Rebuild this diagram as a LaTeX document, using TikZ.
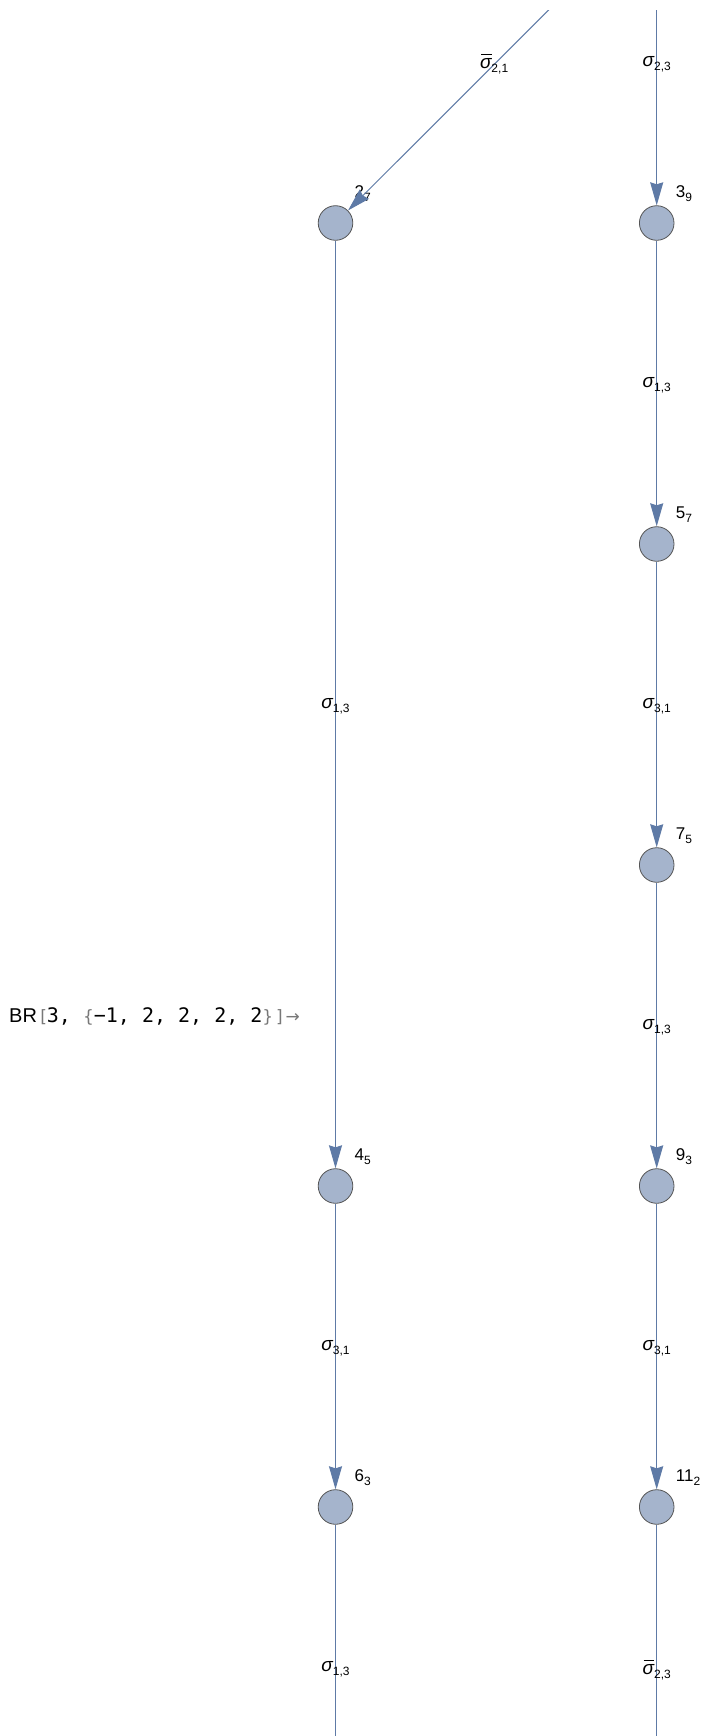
\documentclass[tikz,border=0pt]{standalone}
\usepackage{fontspec}
\setmainfont{Liberation Sans}
\newfontfamily\monof{DejaVu Sans Mono}
\newfontfamily\symf{DejaVu Sans}
\usetikzlibrary{arrows.meta,calc}
\definecolor{edgec}{RGB}{94,122,166}
\definecolor{vfill}{RGB}{165,180,204}
\definecolor{vdraw}{RGB}{85,85,85}
\definecolor{brk}{RGB}{120,120,120}
\newcommand\sg[1]{{\fontsize{19}{19}\selectfont\itshape σ}{\fontsize{12}{12}\selectfont\raisebox{-4pt}{#1}}}
\newcommand\sgbar[1]{{\fontsize{19}{19}\selectfont\itshape\makebox[0pt][l]{\hspace{1pt}\raisebox{13.5pt}{\rule{10.5pt}{1pt}}}σ}{\fontsize{12}{12}\selectfont\raisebox{-4pt}{#1}}}
\newcommand\vl[2]{{\fontsize{17}{17}\selectfont #1}{\fontsize{12}{12}\selectfont\raisebox{-4pt}{#2}}}
\tikzset{
  vtx/.style={circle,minimum size=34.6pt,inner sep=0pt,fill=vfill,draw=vdraw,line width=0.8pt},
  edg/.style={draw=edgec,line width=1pt,-{Stealth[length=23pt,width=13pt,inset=2pt]}},
  pln/.style={draw=edgec,line width=1pt},
  elab/.style={inner sep=0pt,anchor=center,text=black},
  vlab/.style={anchor=west,inner sep=0pt,text=black}
}
\begin{document}
\begin{tikzpicture}[x=1pt,y=1pt]
\useasboundingbox[fill=white] (0,0) rectangle (710,-1736);
% vertices
\node[vtx] (a2) at (335.5,-223) {};
\node[vtx] (a4) at (335.5,-1186) {};
\node[vtx] (a6) at (335.5,-1507) {};
\node[vtx] (b3) at (656.7,-223) {};
\node[vtx] (b5) at (656.7,-544) {};
\node[vtx] (b7) at (656.7,-865) {};
\node[vtx] (b9) at (656.7,-1186) {};
\node[vtx] (b11) at (656.7,-1507) {};
\coordinate (top) at (656.7,98);
\coordinate (botA) at (335.5,-1828);
\coordinate (botB) at (656.7,-1828);
% vertex labels
\node[vlab] (l2) at ($(a2)+(19,29)$) {\vl{2}{7}};
\node[vlab] (l4) at ($(a4)+(19,29)$) {\vl{4}{5}};
\node[vlab] (l6) at ($(a6)+(19,29)$) {\vl{6}{3}};
\node[vlab] (l3) at ($(b3)+(19,29)$) {\vl{3}{9}};
\node[vlab] (l5) at ($(b5)+(19,29)$) {\vl{5}{7}};
\node[vlab] (l7) at ($(b7)+(19,29)$) {\vl{7}{5}};
\node[vlab] (l9) at ($(b9)+(19,29)$) {\vl{9}{3}};
\node[vlab] (l11) at ($(b11)+(19,29)$) {\vl{11}{2}};
% edges
\begin{scope}
\clip (0,-11) rectangle (710,-1736);
\draw[edg] (top) -- (a2);
\draw[edg] (top) -- (b3);
\draw[edg] (a2) -- (a4);
\draw[edg] (b3) -- (b5);
\draw[edg] (b5) -- (b7);
\draw[edg] (b7) -- (b9);
\draw[edg] (a4) -- (a6);
\draw[edg] (b9) -- (b11);
\draw[pln] (a6) -- (botA);
\draw[pln] (b11) -- (botB);
\end{scope}
% edge labels at centre midpoints
\node[elab] (e1) at ($($(top)!0.5!(a2)$)+(-2,-2)$) {\sgbar{2,1}};
\node[elab] (e2) at ($($(top)!0.5!(b3)$)+(0,-2)$) {\sg{2,3}};
\node[elab] (e3) at ($($(a2)!0.5!(a4)$)+(0,-2)$) {\sg{1,3}};
\node[elab] (e4) at ($($(b3)!0.5!(b5)$)+(0,-2)$) {\sg{1,3}};
\node[elab] (e5) at ($($(b5)!0.5!(b7)$)+(0,-2)$) {\sg{3,1}};
\node[elab] (e6) at ($($(b7)!0.5!(b9)$)+(0,-2)$) {\sg{1,3}};
\node[elab] (e7) at ($($(a4)!0.5!(a6)$)+(0,-2)$) {\sg{3,1}};
\node[elab] (e8) at ($($(b9)!0.5!(b11)$)+(0,-2)$) {\sg{3,1}};
\node[elab] (e9) at ($($(a6)!0.5!(botA)$)+(0,-2)$) {\sg{1,3}};
\node[elab] (e10) at ($($(b11)!0.5!(botB)$)+(0,-2)$) {\sgbar{2,3}};
% expression
\node[anchor=west,inner sep=0pt] (expr) at (9,-1016) {\fontsize{20}{20}\selectfont BR\,{\color{brk}\symf\fontsize{17}{17}\selectfont[}{\monof 3, }{\color{brk}\symf\fontsize{17}{17}\selectfont\{}{\monof −1, 2, 2, 2, 2}{\color{brk}\symf\fontsize{17}{17}\selectfont\}\,]\,→}};
\end{tikzpicture}
\end{document}
